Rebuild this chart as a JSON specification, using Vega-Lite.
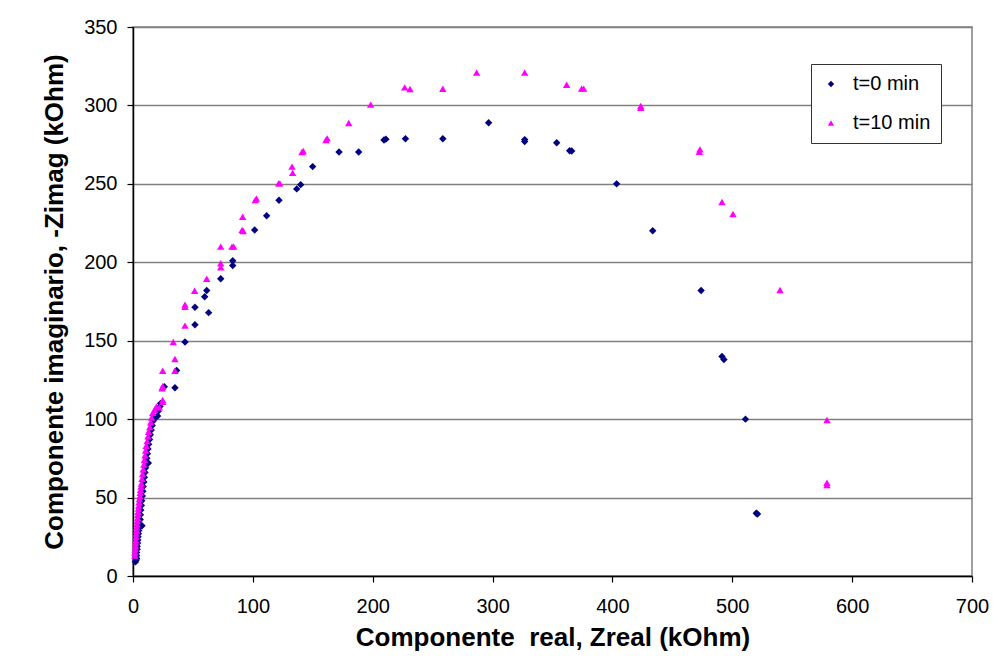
{
  "$schema": "https://vega.github.io/schema/vega-lite/v6.json",
  "width": 839,
  "height": 549,
  "autosize": {"type": "none"},
  "padding": {"left": 133, "top": 27, "right": 21, "bottom": 86},
  "background": "white",
  "config": {
    "font": "Liberation Sans",
    "view": {"stroke": "#808080", "strokeWidth": 1.5},
    "axis": {
      "labelFont": "Liberation Sans",
      "labelFontSize": 20,
      "labelColor": "black",
      "titleFont": "Liberation Sans",
      "titleFontSize": 26,
      "titleFontWeight": "bold",
      "titleColor": "black",
      "domainColor": "black",
      "domainWidth": 1.5,
      "tickColor": "black",
      "tickWidth": 1.2,
      "tickSize": 6,
      "gridColor": "#808080",
      "gridWidth": 1.5,
      "gridOpacity": 1
    },
    "legend": {
      "labelFont": "Liberation Sans",
      "labelFontSize": 20,
      "labelColor": "black",
      "fillColor": "white",
      "strokeColor": "#333333",
      "padding": 10
    }
  },
  "data": {
    "values": [
      {"serie": "t=0 min", "zreal": 2.0, "zimag": 9},
      {"serie": "t=0 min", "zreal": 2.5, "zimag": 10},
      {"serie": "t=0 min", "zreal": 3.0, "zimag": 11},
      {"serie": "t=0 min", "zreal": 2.5, "zimag": 12},
      {"serie": "t=0 min", "zreal": 3.0, "zimag": 13},
      {"serie": "t=0 min", "zreal": 3.0, "zimag": 15},
      {"serie": "t=0 min", "zreal": 3.5, "zimag": 17},
      {"serie": "t=0 min", "zreal": 3.5, "zimag": 19},
      {"serie": "t=0 min", "zreal": 3.8, "zimag": 21},
      {"serie": "t=0 min", "zreal": 4.0, "zimag": 23},
      {"serie": "t=0 min", "zreal": 4.2, "zimag": 25},
      {"serie": "t=0 min", "zreal": 4.5, "zimag": 27},
      {"serie": "t=0 min", "zreal": 4.8, "zimag": 29},
      {"serie": "t=0 min", "zreal": 5.0, "zimag": 31},
      {"serie": "t=0 min", "zreal": 5.5, "zimag": 33},
      {"serie": "t=0 min", "zreal": 7.5, "zimag": 32},
      {"serie": "t=0 min", "zreal": 6.0, "zimag": 36},
      {"serie": "t=0 min", "zreal": 6.2, "zimag": 39},
      {"serie": "t=0 min", "zreal": 6.5, "zimag": 42},
      {"serie": "t=0 min", "zreal": 7.0, "zimag": 45},
      {"serie": "t=0 min", "zreal": 7.3, "zimag": 48},
      {"serie": "t=0 min", "zreal": 7.8, "zimag": 51},
      {"serie": "t=0 min", "zreal": 8.2, "zimag": 54},
      {"serie": "t=0 min", "zreal": 8.5, "zimag": 57},
      {"serie": "t=0 min", "zreal": 9.0, "zimag": 60},
      {"serie": "t=0 min", "zreal": 9.5, "zimag": 63},
      {"serie": "t=0 min", "zreal": 10.0, "zimag": 66},
      {"serie": "t=0 min", "zreal": 10.5, "zimag": 69},
      {"serie": "t=0 min", "zreal": 12.8, "zimag": 72},
      {"serie": "t=0 min", "zreal": 11.5, "zimag": 75},
      {"serie": "t=0 min", "zreal": 12.0, "zimag": 78},
      {"serie": "t=0 min", "zreal": 12.5, "zimag": 81},
      {"serie": "t=0 min", "zreal": 13.0, "zimag": 84},
      {"serie": "t=0 min", "zreal": 13.8, "zimag": 87},
      {"serie": "t=0 min", "zreal": 14.5, "zimag": 90},
      {"serie": "t=0 min", "zreal": 15.2, "zimag": 93},
      {"serie": "t=0 min", "zreal": 16.0, "zimag": 96},
      {"serie": "t=0 min", "zreal": 17.0, "zimag": 99},
      {"serie": "t=0 min", "zreal": 18.5, "zimag": 101},
      {"serie": "t=0 min", "zreal": 20.5, "zimag": 102},
      {"serie": "t=0 min", "zreal": 21.0, "zimag": 105},
      {"serie": "t=0 min", "zreal": 22.5, "zimag": 108},
      {"serie": "t=0 min", "zreal": 23.0, "zimag": 110},
      {"serie": "t=0 min", "zreal": 26.1, "zimag": 120.7},
      {"serie": "t=0 min", "zreal": 35.0, "zimag": 120},
      {"serie": "t=0 min", "zreal": 36.4, "zimag": 131},
      {"serie": "t=0 min", "zreal": 43.4, "zimag": 149.2},
      {"serie": "t=0 min", "zreal": 51.7, "zimag": 160.2},
      {"serie": "t=0 min", "zreal": 63.1, "zimag": 167.9},
      {"serie": "t=0 min", "zreal": 51.7, "zimag": 171.3},
      {"serie": "t=0 min", "zreal": 59.8, "zimag": 178},
      {"serie": "t=0 min", "zreal": 61.5, "zimag": 182},
      {"serie": "t=0 min", "zreal": 73.2, "zimag": 189.5},
      {"serie": "t=0 min", "zreal": 83.2, "zimag": 198},
      {"serie": "t=0 min", "zreal": 83.2, "zimag": 201},
      {"serie": "t=0 min", "zreal": 101.5, "zimag": 220.6},
      {"serie": "t=0 min", "zreal": 111.5, "zimag": 229.7},
      {"serie": "t=0 min", "zreal": 121.8, "zimag": 239.5},
      {"serie": "t=0 min", "zreal": 136.6, "zimag": 246.8},
      {"serie": "t=0 min", "zreal": 139.9, "zimag": 249.5},
      {"serie": "t=0 min", "zreal": 149.9, "zimag": 261},
      {"serie": "t=0 min", "zreal": 171.9, "zimag": 270.3},
      {"serie": "t=0 min", "zreal": 188.3, "zimag": 270.3},
      {"serie": "t=0 min", "zreal": 209.4, "zimag": 278},
      {"serie": "t=0 min", "zreal": 211.0, "zimag": 278.5},
      {"serie": "t=0 min", "zreal": 227.3, "zimag": 278.8},
      {"serie": "t=0 min", "zreal": 258.5, "zimag": 278.8},
      {"serie": "t=0 min", "zreal": 296.7, "zimag": 289},
      {"serie": "t=0 min", "zreal": 326.8, "zimag": 278.2},
      {"serie": "t=0 min", "zreal": 326.8, "zimag": 277},
      {"serie": "t=0 min", "zreal": 353.5, "zimag": 276.2},
      {"serie": "t=0 min", "zreal": 364.3, "zimag": 271.1},
      {"serie": "t=0 min", "zreal": 366.0, "zimag": 271},
      {"serie": "t=0 min", "zreal": 403.5, "zimag": 250},
      {"serie": "t=0 min", "zreal": 433.6, "zimag": 220.1},
      {"serie": "t=0 min", "zreal": 474.0, "zimag": 182},
      {"serie": "t=0 min", "zreal": 491.4, "zimag": 140},
      {"serie": "t=0 min", "zreal": 493.0, "zimag": 138},
      {"serie": "t=0 min", "zreal": 511.0, "zimag": 100},
      {"serie": "t=0 min", "zreal": 520.0, "zimag": 40},
      {"serie": "t=0 min", "zreal": 521.0, "zimag": 39.5},
      {"serie": "t=10 min", "zreal": 1.5, "zimag": 13},
      {"serie": "t=10 min", "zreal": 1.5, "zimag": 15},
      {"serie": "t=10 min", "zreal": 1.8, "zimag": 17},
      {"serie": "t=10 min", "zreal": 2.0, "zimag": 19},
      {"serie": "t=10 min", "zreal": 2.0, "zimag": 21},
      {"serie": "t=10 min", "zreal": 2.3, "zimag": 23},
      {"serie": "t=10 min", "zreal": 2.5, "zimag": 25},
      {"serie": "t=10 min", "zreal": 2.7, "zimag": 27},
      {"serie": "t=10 min", "zreal": 3.0, "zimag": 29},
      {"serie": "t=10 min", "zreal": 3.0, "zimag": 31},
      {"serie": "t=10 min", "zreal": 3.3, "zimag": 33},
      {"serie": "t=10 min", "zreal": 3.5, "zimag": 35},
      {"serie": "t=10 min", "zreal": 3.8, "zimag": 37},
      {"serie": "t=10 min", "zreal": 4.0, "zimag": 39},
      {"serie": "t=10 min", "zreal": 4.2, "zimag": 41},
      {"serie": "t=10 min", "zreal": 4.5, "zimag": 43},
      {"serie": "t=10 min", "zreal": 4.8, "zimag": 45},
      {"serie": "t=10 min", "zreal": 5.0, "zimag": 47},
      {"serie": "t=10 min", "zreal": 5.3, "zimag": 49},
      {"serie": "t=10 min", "zreal": 5.8, "zimag": 51},
      {"serie": "t=10 min", "zreal": 6.0, "zimag": 53},
      {"serie": "t=10 min", "zreal": 6.3, "zimag": 55},
      {"serie": "t=10 min", "zreal": 6.7, "zimag": 57},
      {"serie": "t=10 min", "zreal": 7.0, "zimag": 59},
      {"serie": "t=10 min", "zreal": 7.5, "zimag": 62},
      {"serie": "t=10 min", "zreal": 8.0, "zimag": 65},
      {"serie": "t=10 min", "zreal": 8.5, "zimag": 68},
      {"serie": "t=10 min", "zreal": 9.0, "zimag": 71},
      {"serie": "t=10 min", "zreal": 9.5, "zimag": 74},
      {"serie": "t=10 min", "zreal": 10.0, "zimag": 77},
      {"serie": "t=10 min", "zreal": 10.5, "zimag": 80},
      {"serie": "t=10 min", "zreal": 11.0, "zimag": 83},
      {"serie": "t=10 min", "zreal": 11.8, "zimag": 86},
      {"serie": "t=10 min", "zreal": 12.5, "zimag": 89},
      {"serie": "t=10 min", "zreal": 13.0, "zimag": 92},
      {"serie": "t=10 min", "zreal": 14.0, "zimag": 95},
      {"serie": "t=10 min", "zreal": 14.8, "zimag": 98},
      {"serie": "t=10 min", "zreal": 15.5, "zimag": 101},
      {"serie": "t=10 min", "zreal": 16.5, "zimag": 104},
      {"serie": "t=10 min", "zreal": 18.0, "zimag": 106},
      {"serie": "t=10 min", "zreal": 19.5, "zimag": 108},
      {"serie": "t=10 min", "zreal": 22.0, "zimag": 107.5},
      {"serie": "t=10 min", "zreal": 24.8, "zimag": 111},
      {"serie": "t=10 min", "zreal": 24.8, "zimag": 112.2},
      {"serie": "t=10 min", "zreal": 24.2, "zimag": 119.7},
      {"serie": "t=10 min", "zreal": 24.8, "zimag": 121},
      {"serie": "t=10 min", "zreal": 24.8, "zimag": 130.9},
      {"serie": "t=10 min", "zreal": 35.0, "zimag": 130.9},
      {"serie": "t=10 min", "zreal": 35.0, "zimag": 138.3},
      {"serie": "t=10 min", "zreal": 33.6, "zimag": 149.2},
      {"serie": "t=10 min", "zreal": 43.4, "zimag": 159.6},
      {"serie": "t=10 min", "zreal": 43.4, "zimag": 171.7},
      {"serie": "t=10 min", "zreal": 43.4, "zimag": 173},
      {"serie": "t=10 min", "zreal": 51.4, "zimag": 181.9},
      {"serie": "t=10 min", "zreal": 61.5, "zimag": 189.5},
      {"serie": "t=10 min", "zreal": 73.2, "zimag": 196.8},
      {"serie": "t=10 min", "zreal": 73.2, "zimag": 199.4},
      {"serie": "t=10 min", "zreal": 73.2, "zimag": 210},
      {"serie": "t=10 min", "zreal": 82.6, "zimag": 210},
      {"serie": "t=10 min", "zreal": 84.0, "zimag": 210},
      {"serie": "t=10 min", "zreal": 91.0, "zimag": 220.6},
      {"serie": "t=10 min", "zreal": 92.0, "zimag": 220},
      {"serie": "t=10 min", "zreal": 91.5, "zimag": 229},
      {"serie": "t=10 min", "zreal": 102.0, "zimag": 239.7},
      {"serie": "t=10 min", "zreal": 103.0, "zimag": 240.6},
      {"serie": "t=10 min", "zreal": 121.5, "zimag": 250.3},
      {"serie": "t=10 min", "zreal": 122.5, "zimag": 250.3},
      {"serie": "t=10 min", "zreal": 132.7, "zimag": 261},
      {"serie": "t=10 min", "zreal": 133.2, "zimag": 257},
      {"serie": "t=10 min", "zreal": 141.0, "zimag": 270.3},
      {"serie": "t=10 min", "zreal": 142.0, "zimag": 271},
      {"serie": "t=10 min", "zreal": 161.0, "zimag": 278},
      {"serie": "t=10 min", "zreal": 162.0, "zimag": 279},
      {"serie": "t=10 min", "zreal": 180.0, "zimag": 288.8},
      {"serie": "t=10 min", "zreal": 198.3, "zimag": 300.5},
      {"serie": "t=10 min", "zreal": 226.7, "zimag": 311.5},
      {"serie": "t=10 min", "zreal": 231.1, "zimag": 310.5},
      {"serie": "t=10 min", "zreal": 258.5, "zimag": 310.6},
      {"serie": "t=10 min", "zreal": 286.7, "zimag": 320.9},
      {"serie": "t=10 min", "zreal": 326.8, "zimag": 320.9},
      {"serie": "t=10 min", "zreal": 361.8, "zimag": 313.2},
      {"serie": "t=10 min", "zreal": 374.3, "zimag": 310.7},
      {"serie": "t=10 min", "zreal": 376.0, "zimag": 310.7},
      {"serie": "t=10 min", "zreal": 423.6, "zimag": 299.6},
      {"serie": "t=10 min", "zreal": 423.6, "zimag": 298.5},
      {"serie": "t=10 min", "zreal": 472.5, "zimag": 270.5},
      {"serie": "t=10 min", "zreal": 473.0, "zimag": 272},
      {"serie": "t=10 min", "zreal": 491.4, "zimag": 238.4},
      {"serie": "t=10 min", "zreal": 500.6, "zimag": 230.8},
      {"serie": "t=10 min", "zreal": 539.8, "zimag": 182.3},
      {"serie": "t=10 min", "zreal": 579.0, "zimag": 99.5},
      {"serie": "t=10 min", "zreal": 579.0, "zimag": 58},
      {"serie": "t=10 min", "zreal": 579.0, "zimag": 59.5}
    ]
  },
  "mark": {"type": "point", "filled": true, "opacity": 1, "size": 55, "strokeWidth": 0},
  "encoding": {
    "x": {
      "field": "zreal",
      "type": "quantitative",
      "scale": {"domain": [0, 700], "nice": false, "zero": true},
      "axis": {
        "title": "Componente\u00a0 real, Zreal (kOhm)",
        "values": [0, 100, 200, 300, 400, 500, 600, 700],
        "grid": false,
        "labelPadding": 14,
        "titlePadding": 8,
        "labelFlush": false
      }
    },
    "y": {
      "field": "zimag",
      "type": "quantitative",
      "scale": {"domain": [0, 350], "nice": false, "zero": true},
      "axis": {
        "title": "Componente imaginario, -Zimag (kOhm)",
        "values": [0, 50, 100, 150, 200, 250, 300, 350],
        "grid": true,
        "labelPadding": 10,
        "titlePadding": 16,
        "labelFlush": false
      }
    },
    "color": {
      "field": "serie",
      "type": "nominal",
      "scale": {"domain": ["t=0 min", "t=10 min"], "range": ["#000080", "#FF00FF"]},
      "legend": {
        "title": null,
        "orient": "none",
        "legendX": 678,
        "legendY": 37,
        "symbolSize": 40,
        "labelOffset": 12,
        "rowPadding": 19
      }
    },
    "shape": {
      "field": "serie",
      "type": "nominal",
      "scale": {"domain": ["t=0 min", "t=10 min"], "range": ["diamond", "triangle-up"]},
      "legend": null
    }
  }
}
